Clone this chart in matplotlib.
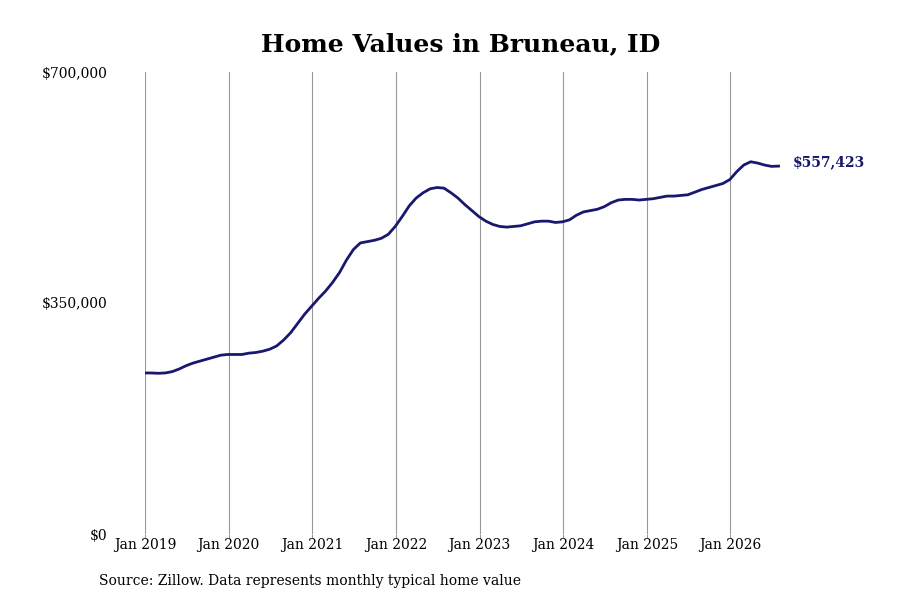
import matplotlib.pyplot as plt
import numpy as np

# monthly typical home value, month-end Dec 2018 .. Jul 2026
values = [
    244000, 244000, 243500, 244000, 246000, 250000, 255000, 259000, 262000, 265000,
    268000, 271000, 272000, 272000, 272000, 274000, 275000, 277000, 280000, 285000,
    294000, 305000, 319000, 333000, 345000, 357000, 368000, 381000, 396000, 415000,
    431000, 441000, 443000, 445000, 448000, 454000, 466000, 481000, 497000, 509000,
    517000, 523000, 525000, 524000, 517000, 509000, 499000, 490000, 481000, 474000,
    469000, 466000, 465000, 466000, 467000, 470000, 473000, 474000, 474000, 472000,
    473000, 476000, 483000, 488000, 490000, 492000, 496000, 502000, 506000, 507000,
    507000, 506000, 507000, 508000, 510000, 512000, 512000, 513000, 514000, 518000,
    522000, 525000, 528000, 531000, 537000, 549000, 559000, 564000, 562000, 559000,
    557000, 557423,
]
years = [2019, 2020, 2021, 2022, 2023, 2024, 2025, 2026]
y_ticks = [0, 350000, 700000]
y_labels = ['$0', '$350,000', '$700,000']

navy = '#18186e'
plt.rcParams['font.family'] = ['DejaVu Serif']

fig = plt.figure(figsize=(9, 6), dpi=100)
ax = fig.add_axes([145 / 900, 66 / 600, 655 / 900, 462 / 600])

months = np.arange(len(values)) - 0.1
ax.plot(months, values, color=navy, lw=2)

tick_pos = [(y - 2019) * 12 for y in years]
ax.set_xticks(tick_pos)
ax.set_xticklabels([f'Jan {y}' for y in years], fontsize=10)
ax.set_yticks(y_ticks)
ax.set_yticklabels(y_labels, fontsize=10)
ax.set_xlim(0, 655 / 6.97)
ax.set_ylim(0, 700000)

ax.grid(axis='x', color='#999999', lw=0.8)
ax.tick_params(axis='x', length=3, color='#999999', pad=0)
ax.tick_params(axis='y', length=0, pad=27)
for s in ax.spines.values():
    s.set_visible(False)

ax.annotate(f'${values[-1]:,.0f}', xy=(months[-1], values[-1]),
            xytext=(10, 3), textcoords='offset points',
            color=navy, fontsize=10, fontweight='bold', va='center')

fig.text(0.512, 0.927, 'Home Values in Bruneau, ID', ha='center', va='center',
         fontsize=18, fontweight='bold')
fig.text(99 / 900, 1 - 581 / 600, 'Source: Zillow. Data represents monthly typical home value',
         ha='left', va='center', fontsize=10)

fig.savefig('out.png', dpi=100)
